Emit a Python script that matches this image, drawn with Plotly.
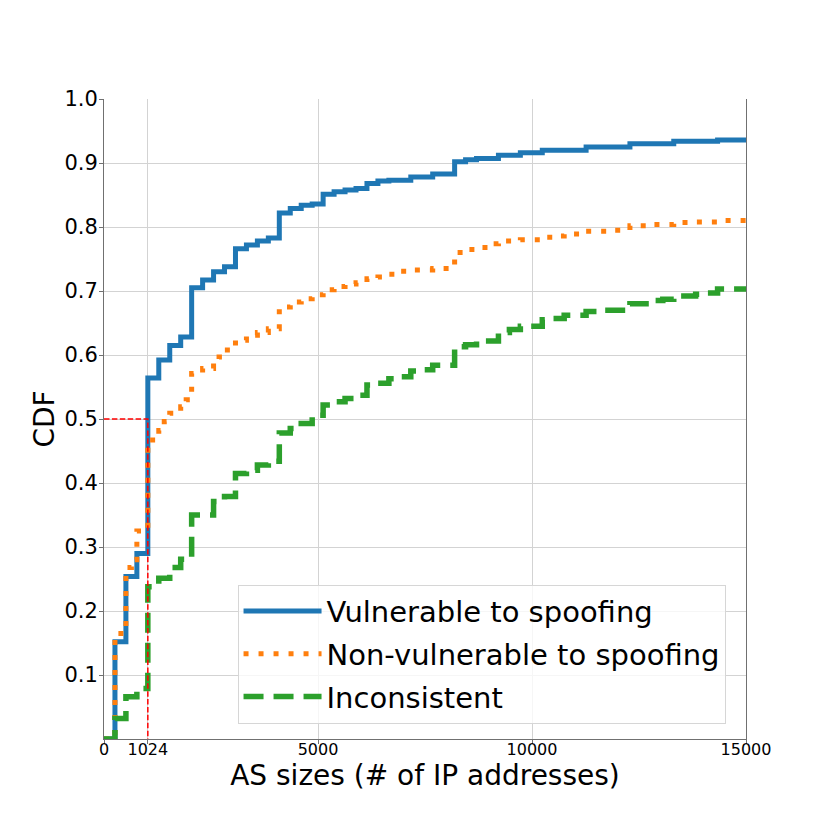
import plotly.graph_objects as go

# AS size (number of IP addresses) at each CDF step, and CDF value reached there
vuln_x = [0, 256, 512, 768, 1024, 1280, 1536, 1792, 2048, 2304, 2560, 2816, 3072, 3328,
          3584, 3840, 4096, 4352, 4608, 4864, 5120, 5376, 5632, 5888, 6144, 6400, 6656,
          7168, 7680, 8192, 8448, 8704, 9216, 9728, 10240, 11264, 12288, 13312, 14336, 15000]
vuln_y = [0, 0.152, 0.254, 0.290, 0.564, 0.592, 0.615, 0.628, 0.705, 0.717, 0.730, 0.738,
          0.766, 0.772, 0.778, 0.783, 0.822, 0.829, 0.834, 0.836, 0.851, 0.855, 0.858,
          0.860, 0.868, 0.872, 0.873, 0.878, 0.883, 0.902, 0.905, 0.907, 0.912, 0.916,
          0.920, 0.925, 0.930, 0.934, 0.936, 0.938]

nonvuln_x = [0, 256, 512, 640, 768, 1024, 1280, 1408, 1536, 1792, 1920, 2048, 2304, 2560,
             2688, 2816, 3072, 3328, 3584, 3840, 4096, 4352, 4608, 4864, 5120, 5376, 5632,
             5888, 6144, 6400, 6656, 6912, 7168, 7680, 8192, 8448, 8704, 8960, 9216, 9728,
             10240, 10496, 10752, 11264, 11776, 12288, 12800, 13312, 13824, 14336, 15000]
nonvuln_y = [0, 0.165, 0.268, 0.280, 0.325, 0.467, 0.482, 0.496, 0.509, 0.519, 0.530,
             0.571, 0.579, 0.587, 0.597, 0.608, 0.623, 0.631, 0.635, 0.641, 0.675, 0.683,
             0.688, 0.694, 0.702, 0.707, 0.711, 0.713, 0.719, 0.722, 0.726, 0.731, 0.733,
             0.735, 0.760, 0.765, 0.768, 0.774, 0.778, 0.780, 0.784, 0.786, 0.789, 0.7935,
             0.795, 0.802, 0.804, 0.807, 0.808, 0.810, 0.812]

incons_x = [0, 256, 512, 768, 1024, 1280, 1536, 1792, 2048, 2560, 2816, 3072, 3328, 3584,
            3840, 4096, 4352, 4608, 4864, 5120, 5376, 5632, 5888, 6144, 6400, 6656, 6912,
            7168, 7424, 7680, 8192, 8448, 8704, 9216, 9472, 9728, 10240, 10496, 10752,
            11264, 11520, 12288, 12800, 13056, 13312, 13824, 14080, 14336, 15000]
incons_y = [0, 0.032, 0.066, 0.079, 0.238, 0.251, 0.268, 0.281, 0.350, 0.371, 0.379,
            0.415, 0.420, 0.428, 0.434, 0.478, 0.485, 0.493, 0.506, 0.522, 0.527, 0.532,
            0.537, 0.553, 0.556, 0.563, 0.566, 0.575, 0.577, 0.584, 0.613, 0.616, 0.622,
            0.635, 0.640, 0.645, 0.655, 0.657, 0.662, 0.668, 0.670, 0.680, 0.685, 0.687,
            0.692, 0.695, 0.697, 0.703, 0.707]

# median marker
median_x = 1024
median_y = 0.5

x_ticks = [0, 1024, 5000, 10000, 15000]
y_ticks = [0.1, 0.2, 0.3, 0.4, 0.5, 0.6, 0.7, 0.8, 0.9, 1.0]

FONT = "DejaVu Sans"

fig = go.Figure()

fig.add_trace(go.Scatter(
    x=vuln_x, y=vuln_y, mode="lines", line_shape="hv",
    name="Vulnerable to spoofing", legendgroup="a",
    line=dict(color="#1f77b4", width=5),
))
fig.add_trace(go.Scatter(
    x=nonvuln_x, y=nonvuln_y, mode="lines", line_shape="hv",
    name="Non-vulnerable to spoofing", legendgroup="b",
    line=dict(color="#ff7f0e", width=5, dash="5px,10px"),
))
fig.add_trace(go.Scatter(
    x=incons_x, y=incons_y, mode="lines", line_shape="hv",
    name="Inconsistent", legendgroup="c",
    line=dict(color="#2ca02c", width=5.5, dash="20px,10px"),
))
fig.add_trace(go.Scatter(
    x=[0, median_x, median_x], y=[median_y, median_y, 0], mode="lines",
    line=dict(color="red", width=1.5, dash="5.5px,2.4px"),
    showlegend=False, hoverinfo="skip",
))

# page body adds ~8px offset, margins compensate for it
fig.update_layout(
    width=830, height=830,
    margin=dict(l=96, r=92, t=91, b=99),
    paper_bgcolor="white", plot_bgcolor="white",
    font=dict(family=FONT, color="black"),
    legend=dict(
        x=0.208, y=0.024, xanchor="left", yanchor="bottom",
        font=dict(size=29, family=FONT),
        bgcolor="rgba(255,255,255,0.8)",
        bordercolor="#d6d6d6", borderwidth=1,
        itemwidth=78, tracegroupgap=2,
    ),
    xaxis=dict(
        range=[0, 15000], tickvals=x_ticks, ticktext=[str(v) for v in x_ticks],
        tickfont=dict(size=16), showgrid=True, gridcolor="#d3d3d3", gridwidth=1,
        zeroline=False, showline=True, linecolor="#707070", linewidth=1,
        ticks="outside", ticklen=4, tickcolor="#707070", ticklabelstandoff=-8,
        title=dict(text="AS sizes (# of IP addresses)", font=dict(size=28), standoff=1),
    ),
    yaxis=dict(
        range=[0, 1], tickvals=y_ticks, ticktext=[f"{v:.1f}" for v in y_ticks],
        tickfont=dict(size=21), showgrid=True, gridcolor="#d3d3d3", gridwidth=1,
        zeroline=False, showline=True, mirror=True, linecolor="#707070", linewidth=1,
        ticks="outside", ticklen=4, tickcolor="#707070", ticklabelstandoff=-3,
        title=dict(text="CDF", font=dict(size=28), standoff=1),
    ),
)

fig.write_html("out.html")
